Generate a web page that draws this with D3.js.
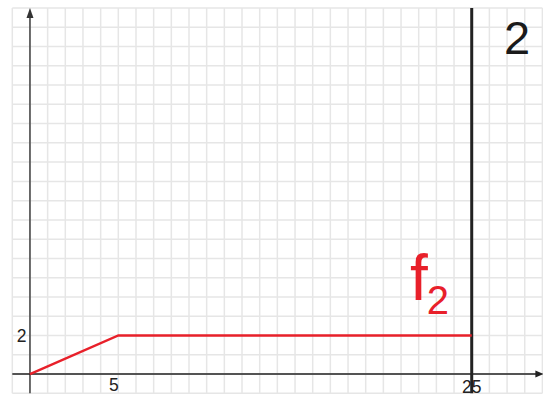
<!DOCTYPE html>
<html>
<head>
<meta charset="utf-8">
<script src="https://cdn.jsdelivr.net/npm/d3@7"></script>
<style>
  html, body { margin: 0; padding: 0; background: #fff; }
  svg { display: block; font-family: "Liberation Sans", Arial, sans-serif; }
</style>
</head>
<body>
<svg id="chart" width="543" height="400"></svg>
<script>
// Piecewise function f2: rises from 0 to 2 over [0, 5], then flat until 25
const fX = [0, 5, 25];
const fY = [0, 2, 2];
const xTickValues = [5, 25];
const yTickValues = [2];
const boundaryX = 25;
const panelLabel = "2";
const seriesName = "f";
const seriesSub = "2";

const xDomain = [-1, 29];
const yDomain = [-1, 19];

const svg = d3.select("#chart");
const x = d3.scaleLinear().domain(xDomain).range([12.3, 542.4]);
const y = d3.scaleLinear().domain(yDomain).range([393.3, 8]);

// background grid, one line per unit
const grid = svg.append("g").attr("stroke", "#e6e6e6").attr("stroke-width", 1.5);
grid.selectAll("line.v").data(d3.range(xDomain[0], xDomain[1] + 1)).join("line")
  .attr("x1", d => x(d)).attr("x2", d => x(d))
  .attr("y1", y(yDomain[0])).attr("y2", y(yDomain[1]));
grid.selectAll("line.h").data(d3.range(yDomain[0], yDomain[1] + 1)).join("line")
  .attr("x1", x(xDomain[0])).attr("x2", x(xDomain[1]))
  .attr("y1", d => y(d)).attr("y2", d => y(d));

// axes with arrowheads
const axisColor = "#333";
svg.append("line")
  .attr("x1", x(0)).attr("x2", x(0))
  .attr("y1", y(yDomain[0])).attr("y2", y(yDomain[1]) + 4)
  .attr("stroke", axisColor).attr("stroke-width", 1.4);
svg.append("path")
  .attr("d", `M${x(0)},${y(yDomain[1])} l-3.5,10 l7,0 Z`)
  .attr("fill", axisColor);
svg.append("line")
  .attr("x1", x(xDomain[0])).attr("x2", x(xDomain[1]) - 2)
  .attr("y1", y(0)).attr("y2", y(0))
  .attr("stroke", "#222").attr("stroke-width", 1.4);
svg.append("path")
  .attr("d", `M${x(xDomain[1]) + 1},${y(0)} l-8,-3.5 l0,7 Z`)
  .attr("fill", "#222");

// boundary at x = 25
svg.append("line")
  .attr("x1", x(boundaryX)).attr("x2", x(boundaryX))
  .attr("y1", y(yDomain[1])).attr("y2", y(yDomain[0]))
  .attr("stroke", "#222").attr("stroke-width", 3);

// function graph
const line = d3.line().x((d, i) => x(fX[i])).y(d => y(d));
svg.append("path")
  .attr("d", line(fY))
  .attr("fill", "none")
  .attr("stroke", "#e8202a")
  .attr("stroke-width", 2.4);

// tick labels
svg.selectAll("text.xt").data(xTickValues).join("text")
  .attr("x", d => d === boundaryX ? x(d) : x(d) - 4.5)
  .attr("y", d => d === boundaryX ? 393 : 391)
  .attr("text-anchor", "middle")
  .attr("font-size", 17.5)
  .attr("fill", "#222")
  .text(d => d);
svg.selectAll("text.yt").data(yTickValues).join("text")
  .attr("x", 21.5)
  .attr("y", d => y(d) + 6.5)
  .attr("text-anchor", "middle")
  .attr("font-size", 17.5)
  .attr("fill", "#222")
  .text(d => d);

// panel number
svg.append("text")
  .attr("x", 517).attr("y", 54)
  .attr("text-anchor", "middle")
  .attr("font-size", 47)
  .attr("fill", "#1a1a1a")
  .text(panelLabel);

// series name with subscript
const lbl = svg.append("text")
  .attr("x", 410).attr("y", 300)
  .attr("fill", "#e8202a")
  .attr("font-size", 64);
lbl.append("tspan").text(seriesName);
lbl.append("tspan").attr("font-size", 40).attr("dx", -1).attr("dy", 14).text(seriesSub);
</script>
</body>
</html>
